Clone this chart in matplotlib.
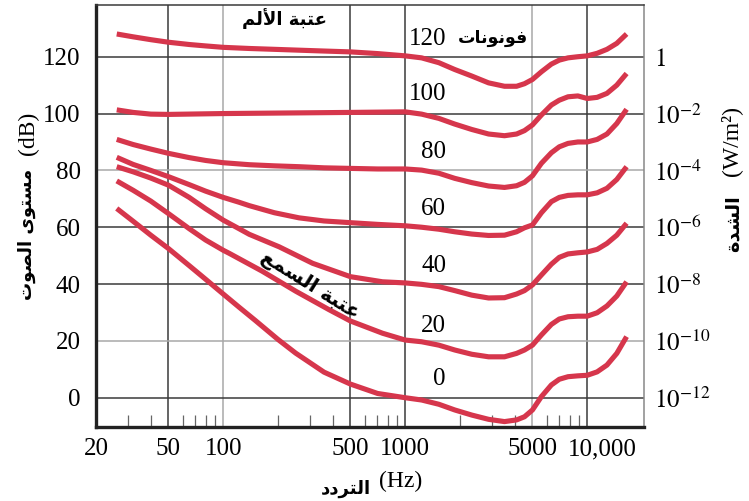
import matplotlib
matplotlib.use('Agg')
import matplotlib.pyplot as plt
import matplotlib.ticker as mticker
import matplotlib.transforms as mtransforms

plt.rcParams['mathtext.fontset'] = 'stix'

# matplotlib 3.10 does not shape arabic or reorder it, so do it by hand:
# presentation forms (isolated, final, initial, medial), right-joining letters have two
AR_FORMS = {
    'ا': (0xFE8D, 0xFE8E), 'أ': (0xFE83, 0xFE84), 'ة': (0xFE93, 0xFE94),
    'د': (0xFEA9, 0xFEAA), 'ر': (0xFEAD, 0xFEAE), 'و': (0xFEED, 0xFEEE),
    'ى': (0xFEEF, 0xFEF0),
    'ب': (0xFE8F, 0xFE90, 0xFE91, 0xFE92), 'ت': (0xFE95, 0xFE96, 0xFE97, 0xFE98),
    'س': (0xFEB1, 0xFEB2, 0xFEB3, 0xFEB4), 'ش': (0xFEB5, 0xFEB6, 0xFEB7, 0xFEB8),
    'ص': (0xFEB9, 0xFEBA, 0xFEBB, 0xFEBC), 'ع': (0xFEC9, 0xFECA, 0xFECB, 0xFECC),
    'ف': (0xFED1, 0xFED2, 0xFED3, 0xFED4), 'ل': (0xFEDD, 0xFEDE, 0xFEDF, 0xFEE0),
    'م': (0xFEE1, 0xFEE2, 0xFEE3, 0xFEE4), 'ن': (0xFEE5, 0xFEE6, 0xFEE7, 0xFEE8),
}
LAM_ALEF = {'ا': (0xFEFB, 0xFEFC), 'أ': (0xFEF7, 0xFEF8)}


def ar(text):
    out = []
    prev_joins = False
    i = 0
    while i < len(text):
        c = text[i]
        if c not in AR_FORMS:
            out.append(c)
            prev_joins = False
            i += 1
            continue
        if c == 'ل' and i + 1 < len(text) and text[i + 1] in LAM_ALEF:
            iso, fin = LAM_ALEF[text[i + 1]]
            out.append(chr(fin if prev_joins else iso))
            prev_joins = False
            i += 2
            continue
        forms = AR_FORMS[c]
        dual = len(forms) == 4
        next_ok = i + 1 < len(text) and text[i + 1] in AR_FORMS
        if dual and next_ok:
            out.append(chr(forms[3] if prev_joins else forms[2]))
        else:
            out.append(chr(forms[1] if prev_joins else forms[0]))
        prev_joins = dual
        i += 1
    return ''.join(out[::-1])


# equal loudness curves (Hz, dB)
f_0 = [26, 32, 40, 50, 65, 80, 100, 122, 150, 200, 250, 300, 358, 500, 705, 1000,
       1230, 1530, 1870, 2320, 2870, 3510, 4090, 4520, 5000, 5600, 6350, 7020,
       7840, 8880, 10000, 11330, 12830, 14530, 16450]
db_0 = [66.6, 62.1, 57.2, 52.5, 46.5, 41.7, 36.5, 31.9, 27.2, 20.5, 15.7, 12.3, 9.0, 4.8, 1.5, 0.0,
        -0.8, -2.3, -4.3, -6.1, -7.6, -8.4, -7.8, -6.7, -4.3, 0.4, 4.5, 6.5,
        7.4, 7.7, 7.9, 9.1, 11.5, 15.6, 21.5]

f_20 = [26, 32, 40, 50, 65, 80, 100, 108, 164, 250, 381, 500, 750, 1000,
        1230, 1530, 1870, 2320, 2870, 3510, 4090, 4520, 5000, 5600, 6350, 7020,
        7840, 8880, 10000, 11330, 12830, 14530, 16450]
db_20 = [76.3, 73.0, 69.2, 64.8, 59.5, 55.5, 51.9, 50.8, 44.5, 37.5, 31.0, 27.0, 22.7, 20.3,
         19.7, 18.5, 16.8, 15.3, 14.4, 14.4, 15.6, 16.8, 18.5, 22.1, 25.8, 27.7,
         28.5, 28.7, 28.7, 29.9, 32.3, 35.8, 40.8]

f_40 = [26, 32, 40, 50, 65, 80, 100, 122, 139, 203, 310, 500, 750, 1000,
        1230, 1530, 1870, 2320, 2870, 3510, 4090, 4520, 5000, 5600, 6350, 7020,
        7840, 8880, 10000, 11330, 12830, 14530, 16450]
db_40 = [81.3, 79.5, 77.3, 74.8, 70.5, 66.5, 62.5, 59.5, 57.5, 53.1, 47.3, 42.6, 40.8, 40.4,
         39.9, 39.1, 37.7, 36.1, 35.1, 35.2, 36.5, 37.7, 39.7, 43.2, 47.0, 49.4,
         50.6, 51.0, 51.3, 52.2, 54.3, 57.2, 61.4]

f_60 = [26, 32, 40, 50, 65, 80, 100, 122, 139, 191, 261, 358, 500, 705, 1000,
        1230, 1530, 1870, 2320, 2870, 3510, 4090, 4520, 5000, 5600, 6350, 7020,
        7840, 8880, 10000, 11330, 12830, 14530, 16450]
db_60 = [84.6, 82.1, 80.0, 77.8, 75.0, 72.7, 70.5, 68.8, 67.6, 65.1, 63.3, 62.2, 61.6, 61.0, 60.5,
         60.0, 59.3, 58.4, 57.6, 57.1, 57.2, 58.4, 59.8, 60.8, 65.1, 69.0, 70.5,
         71.2, 71.4, 71.4, 72.1, 73.7, 76.8, 81.3]

f_80 = [26, 32, 40, 50, 65, 80, 100, 139, 191, 261, 358, 500, 705, 1000,
        1230, 1530, 1870, 2320, 2870, 3510, 4090, 4520, 5000, 5600, 6350, 7020,
        7840, 8880, 10000, 11330, 12830, 14530, 16450]
db_80 = [90.9, 89.1, 87.5, 86.0, 84.5, 83.5, 82.7, 82.0, 81.6, 81.3, 80.9, 80.7, 80.5, 80.5,
         80.1, 79.0, 77.2, 75.7, 74.5, 74.0, 74.6, 75.8, 78.1, 82.5, 86.2, 88.3,
         89.5, 90.0, 90.0, 90.9, 92.8, 96.5, 101.5]

f_100 = [26, 32, 40, 50, 100, 500, 1000,
         1230, 1530, 1870, 2320, 2870, 3510, 4090, 4520, 5000, 5600, 6350, 7020,
         7840, 8880, 10000, 11330, 12830, 14530, 16450]
db_100 = [101.3, 100.4, 99.8, 99.7, 100.0, 100.4, 100.6,
          99.8, 98.3, 96.3, 94.4, 92.8, 92.2, 92.8, 94.0, 96.0, 99.5, 103.0, 104.7,
          105.9, 106.2, 105.3, 105.7, 107.1, 110.0, 114.1]

f_120 = [26, 32, 40, 50, 65, 80, 100, 139, 191, 261, 358, 500, 705, 1000,
         1230, 1530, 1870, 2320, 2870, 3510, 4090, 4520, 5000, 5600, 6350, 7020,
         7840, 8880, 10000, 11330, 12830, 14530, 16450]
db_120 = [128.0, 127.0, 126.0, 125.1, 124.3, 123.8, 123.3, 122.9, 122.6, 122.3, 122.0, 121.7, 121.1, 120.3,
          119.6, 117.9, 115.5, 113.2, 110.8, 109.6, 109.6, 110.5, 112.0, 114.7, 117.4, 118.8,
          119.6, 120.0, 120.3, 121.2, 122.6, 124.7, 128.0]

phons = ['0', '20', '40', '60', '80', '100', '120']
curve_f = [f_0, f_20, f_40, f_60, f_80, f_100, f_120]
curve_db = [db_0, db_20, db_40, db_60, db_80, db_100, db_120]

x_ticks = [20, 50, 100, 500, 1000, 5000, 10000]
x_labels = ['20', '50', '100', '500', '1000', '5000', '10,000']
x_minor = [30, 40, 60, 70, 80, 90, 200, 300, 400, 600, 700, 800, 900,
           2000, 3000, 4000, 6000, 7000, 8000, 9000]
y_ticks = [0, 20, 40, 60, 80, 100, 120]
intensity_labels = ['$10^{-12}$', '$10^{-10}$', '$10^{-8}$', '$10^{-6}$',
                    '$10^{-4}$', '$10^{-2}$', '$1$']

RED = '#d6364c'
DARK = '#3a3a3a'
GREY = '#a8a8a8'
SERIF = ['Liberation Serif', 'DejaVu Sans']
ARAB = ['DejaVu Sans']

fig = plt.figure(figsize=(7.49, 5.01), dpi=100)
ax = fig.add_axes([96 / 749, 1 - 427 / 501, 548 / 749, 422 / 501])
ax.set_xscale('log')
ax.set_xlim(20, 20500)
ax.set_ylim(-10.3, 138.2)

# grid, some lines are printed lighter than the others
vgrid_col = [DARK, GREY, DARK, DARK, GREY, DARK]
for xv, c in zip(x_ticks[1:], vgrid_col):
    ax.axvline(xv, color=c, lw=1.1, zorder=1)
hgrid_col = [DARK, GREY, DARK, DARK, GREY, DARK, DARK]
for yv, c in zip(y_ticks, hgrid_col):
    ax.axhline(yv, color=c, lw=1.1, zorder=1)

for f, db in zip(curve_f, curve_db):
    ax.plot(f, db, color=RED, lw=3.7, solid_joinstyle='round',
            solid_capstyle='butt', zorder=3)

ax.set_xticks(x_ticks)
ax.set_xticklabels(x_labels, fontfamily=SERIF, fontsize=18)
ax.set_xticks(x_minor, minor=True)
ax.xaxis.set_minor_formatter(mticker.NullFormatter())
ax.tick_params(axis='x', which='major', length=0, pad=8)
ax.tick_params(axis='x', which='minor', direction='in', length=9,
               width=0.9, color='#666666')
ax.set_yticks(y_ticks)
ax.set_yticklabels([str(v) for v in y_ticks], fontfamily=SERIF, fontsize=18)
ax.tick_params(axis='y', length=0, pad=11)

# the 10,000 label sits a bit right of its line
lab = ax.get_xticklabels()[-1]
lab.set_transform(lab.get_transform() +
                  mtransforms.ScaledTranslation(0.15, 0, fig.dpi_scale_trans))

for side in ['left', 'bottom']:
    ax.spines[side].set_linewidth(2.4)
    ax.spines[side].set_color('#222222')
ax.spines['top'].set_linewidth(1.1)
ax.spines['top'].set_color(DARK)
ax.spines['right'].set_linewidth(1.1)
ax.spines['right'].set_color('#888888')

ax2 = ax.twinx()
ax2.set_ylim(ax.get_ylim())
ax2.set_yticks(y_ticks)
ax2.set_yticklabels(intensity_labels, fontsize=18)
ax2.tick_params(axis='y', length=0, pad=7)
for s in ax2.spines.values():
    s.set_visible(False)

# phon numbers on the curves
phon_label_f = [1530, 1430, 1430, 1430, 1430, 1330, 1330]
phon_label_db = [6.6, 25.2, 46.3, 66.4, 86.5, 106.9, 126.4]
for p, x, y in zip(phons, phon_label_f, phon_label_db):
    ax.text(x, y, p, fontfamily=SERIF, fontsize=18, ha='center', va='center', zorder=4)

ax.text(3020, 126.6, ar('فونونات'), family=ARAB, fontsize=12.5,
        fontweight='bold', ha='center', va='center', zorder=4)
ax.text(216, 133.6, ar('عتبة الألم'), family=ARAB, fontsize=13,
        fontweight='bold', ha='center', va='center', zorder=4)
ax.text(298, 39.6, ar('عتبة السمع'), family=ARAB, fontsize=14.5,
        fontweight='bold', ha='center', va='center', rotation=-32,
        rotation_mode='anchor', zorder=4)

# axis titles: arabic part bold sans, latin part serif
fig.text(28 / 749, 1 - 133 / 501, '(dB)', family=SERIF, fontsize=17,
         rotation=90, ha='center', va='center')
fig.text(27 / 749, 1 - 234 / 501, ar('مستوى الصوت'), family=ARAB, fontsize=13,
         fontweight='bold', rotation=90, ha='center', va='center')
fig.text(731 / 749, 1 - 141 / 501, '(W/m²)', family=SERIF, fontsize=17,
         rotation=90, ha='center', va='center')
fig.text(733 / 749, 1 - 224 / 501, ar('الشدة'), family=ARAB, fontsize=14,
         fontweight='bold', rotation=90, ha='center', va='center')
fig.text(346 / 749, 1 - 489 / 501, ar('التردد'), family=ARAB, fontsize=13,
         fontweight='bold', ha='center', va='center')
fig.text(401 / 749, 1 - 481 / 501, '(Hz)', family=SERIF, fontsize=17,
         ha='center', va='center')

fig.savefig('out.png', dpi=100)
